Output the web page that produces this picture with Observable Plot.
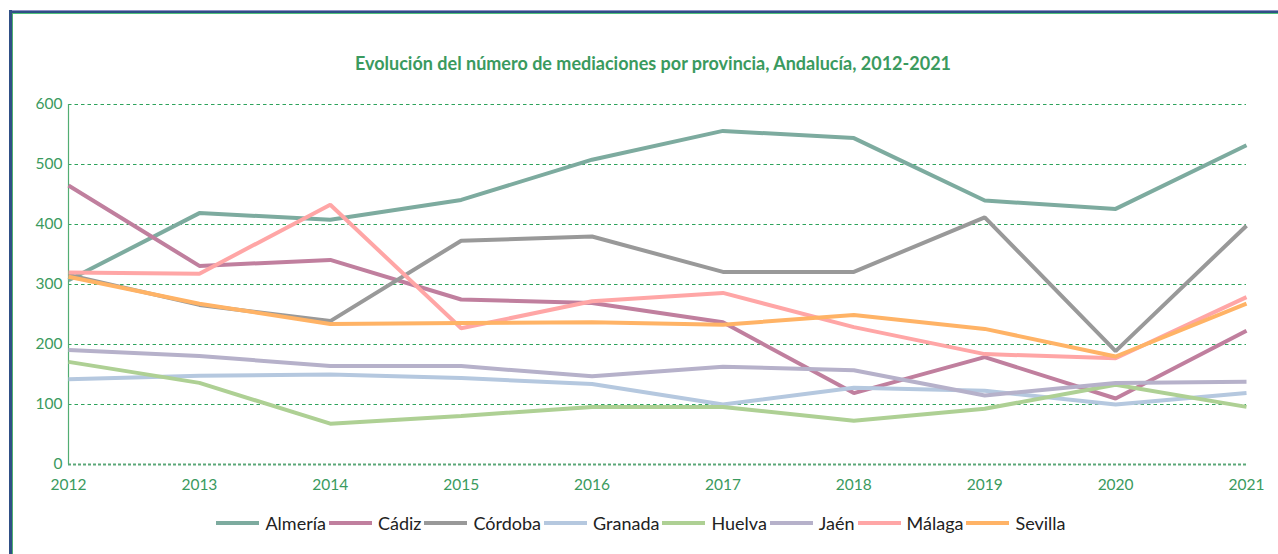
<!DOCTYPE html>
<html>
<head>
<meta charset="utf-8">
<script src="https://cdn.jsdelivr.net/npm/d3@7"></script>
<script src="https://cdn.jsdelivr.net/npm/@observablehq/plot@0.6"></script>
<style>
  html, body { margin: 0; padding: 0; background: #fff; }
  #wrap { position: relative; width: 1278px; height: 554px; overflow: hidden; font-family: Lato, "Open Sans", sans-serif; }
  #btop1 { position: absolute; left: 9px; top: 10px; width: 1269px; height: 1px; background: #8f8fc4; }
  #btop2 { position: absolute; left: 9px; top: 11px; width: 1269px; height: 2px; background: #2f4f86; }
  #btop3 { position: absolute; left: 12px; top: 13px; width: 1266px; height: 1px; background: #4fc07a; }
  #bleft1 { position: absolute; left: 9px; top: 10px; width: 3px; height: 544px; background: #2f4f86; }
  #bleft2 { position: absolute; left: 12px; top: 13px; width: 1px; height: 541px; background: #4fae70; }
  #title { position: absolute; left: 0; width: 1306px; top: 52px; text-align: center; color: #3a9a5e; font-weight: bold; font-size: 18px; }
  #chart { position: absolute; left: 0; top: 0; }
  #legend { position: absolute; left: 0; width: 1278px; top: 512px; display: flex; justify-content: center; font-size: 18px; color: #222; padding-left: 2px; }
  .item { display: flex; align-items: center; margin: 0 1.5px; }
  .sw { width: 43px; height: 4px; margin-right: 6px; }
</style>
</head>
<body>
<div id="wrap">
  <div id="btop1"></div><div id="btop2"></div><div id="btop3"></div>
  <div id="bleft1"></div><div id="bleft2"></div>
  <div id="chart"></div>
  <div id="title">Evolución del número de mediaciones por provincia, Andalucía, 2012-2021</div>
  <div id="legend"></div>
</div>
<script>
const years = [2012, 2013, 2014, 2015, 2016, 2017, 2018, 2019, 2020, 2021];
const provinces = ["Almería", "Cádiz", "Córdoba", "Granada", "Huelva", "Jaén", "Málaga", "Sevilla"];
const almeria = [307, 419, 408, 441, 508, 556, 544, 440, 426, 532];
const cadiz   = [465, 331, 341, 275, 269, 237, 119, 179, 110, 223];
const cordoba = [316, 266, 239, 373, 380, 321, 321, 412, 189, 398];
const granada = [142, 148, 150, 144, 134, 100, 128, 123, 100, 119];
const huelva  = [171, 136, 68, 81, 96, 96, 73, 93, 133, 96];
const jaen    = [191, 181, 164, 164, 147, 163, 157, 115, 136, 138];
const malaga  = [320, 318, 433, 227, 272, 286, 229, 184, 177, 279];
const sevilla = [313, 268, 234, 236, 237, 233, 249, 226, 180, 268];
const yTicks = [0, 100, 200, 300, 400, 500, 600];
const colors = ["#7dab9f", "#c07f9e", "#999999", "#b5c8df", "#aed094", "#b6b1ca", "#ffa6a6", "#ffb366"];

const series = [almeria, cadiz, cordoba, granada, huelva, jaen, malaga, sevilla];
const data = [];
provinces.forEach((p, i) => years.forEach((y, j) => data.push({province: p, year: y, value: series[i][j]})));

const green = "#3a9a5e";
const chart = Plot.plot({
  width: 1278,
  height: 500,
  marginLeft: 68,
  marginRight: 32,
  marginTop: 104,
  marginBottom: 36,
  style: { fontFamily: "Lato, 'Open Sans', sans-serif", fontSize: "15px", background: "transparent", overflow: "visible" },
  x: { type: "linear", domain: [2012, 2021], label: null },
  y: { domain: [0, 600], label: null },
  color: { domain: provinces, range: colors },
  marks: [
    Plot.ruleY(yTicks.filter(d => d > 0), { stroke: "#2ea35c", strokeDasharray: "3.5,3", strokeWidth: 1 }),
    Plot.ruleY([0], { stroke: "#5aa878", strokeDasharray: "3,2", strokeWidth: 2 }),
    Plot.ruleX([2012], { y1: 0, y2: 600, stroke: "#52ad72", strokeWidth: 1.2 }),
    Plot.axisX({ ticks: years, tickFormat: d => String(d), tickSize: 0, tickPadding: 14, color: green, fontSize: 15.5 }),
    Plot.axisY({ ticks: yTicks, tickSize: 0, tickPadding: 6, color: green, fontSize: 15.5 }),
    Plot.lineY(data, { x: "year", y: "value", z: "province", stroke: "province", strokeWidth: 4, strokeLinejoin: "miter", strokeLinecap: "butt" })
  ]
});
document.getElementById("chart").appendChild(chart);

const legend = document.getElementById("legend");
provinces.forEach((p, i) => {
  const item = document.createElement("div");
  item.className = "item";
  const sw = document.createElement("span");
  sw.className = "sw";
  sw.style.background = colors[i];
  const t = document.createElement("span");
  t.textContent = p;
  item.appendChild(sw);
  item.appendChild(t);
  legend.appendChild(item);
});
</script>
</body>
</html>
